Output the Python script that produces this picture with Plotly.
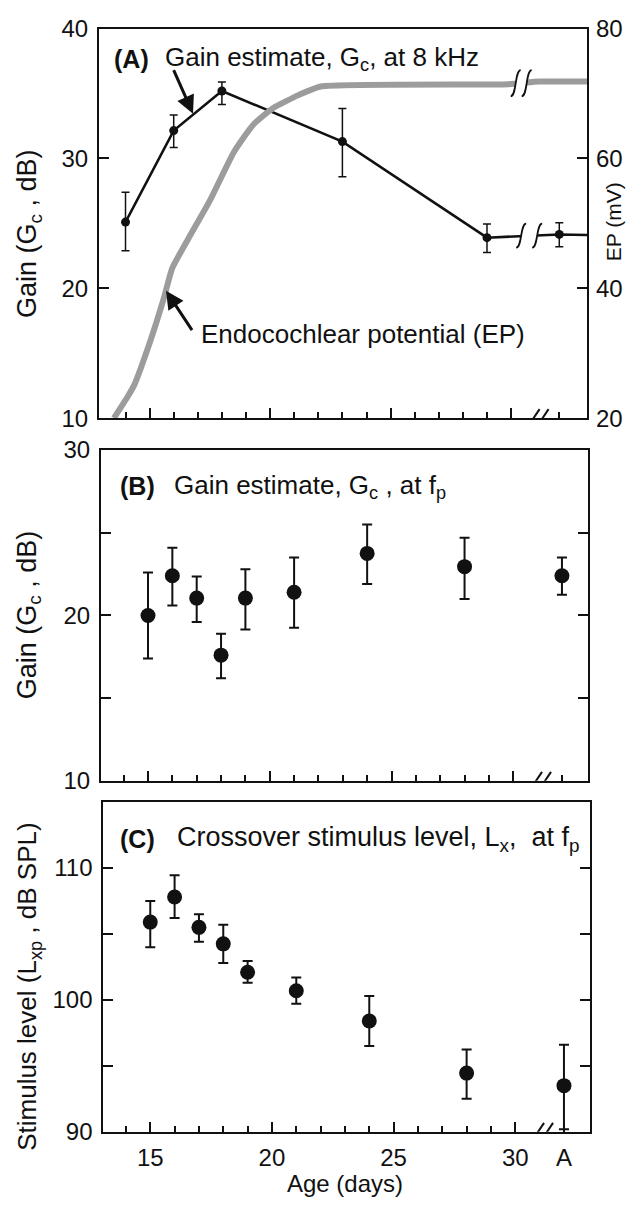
import plotly.graph_objects as go

W, H = 639, 1212

# ---------------- data ----------------
# Panel A: gain estimate at 8 kHz (left axis) and EP (right axis)
gainA_days = [14, 16, 18, 23, 29, 32]
gainA_vals = [25.1, 32.15, 35.2, 31.3, 23.9, 24.15]
gainA_hi = [27.4, 33.35, 35.9, 33.85, 24.95, 25.05]
gainA_lo = [22.9, 30.85, 34.15, 28.6, 22.75, 23.2]
gainA_tail_day = [33.2]
gainA_tail_val = [24.1]

ep_days = [13.52, 14.08, 14.35, 15.04, 15.6, 15.94, 16.6, 17.5, 18.5, 19.3,
           20.1, 21.2, 22.1, 29.9, 31.16, 33.2]
ep_mv = [20.0, 23.25, 25.0, 32.0, 38.6, 43.1, 47.6, 53.5, 61.0, 65.2,
         67.7, 69.8, 71.1, 71.45, 71.85, 71.85]

# Panel B: gain estimate at fp
gainB_days = [15, 16, 17, 18, 19, 21, 24, 28, 32]
gainB_vals = [20.0, 22.4, 21.05, 17.6, 21.05, 21.4, 23.75, 22.95, 22.4]
gainB_hi = [22.6, 24.1, 22.35, 18.9, 22.8, 23.5, 25.5, 24.7, 23.5]
gainB_lo = [17.4, 20.6, 19.6, 16.2, 19.15, 19.25, 21.9, 21.0, 21.25]

# Panel C: crossover stimulus level
lx_days = [15, 16, 17, 18, 19, 21, 24, 28, 32]
lx_vals = [105.9, 107.8, 105.5, 104.25, 102.1, 100.7, 98.4, 94.45, 93.5]
lx_hi = [107.5, 109.45, 106.5, 105.7, 102.95, 101.7, 100.3, 96.25, 96.6]
lx_lo = [104.0, 106.2, 104.4, 102.8, 101.3, 99.7, 96.5, 92.5, 90.2]

major_days = [15, 20, 25, 30]
minor_days = list(range(14, 31)) + [32]
c_tickvals = [15, 20, 25, 30, 32]
c_ticktext = ["15", "20", "25", "30", "A"]
break_day = 31.12

FONT = "Liberation Sans, Arial, sans-serif"
BLACK = "#111111"
GRAY = "#9c9c9c"


def px_x(p):
    return p / W


def px_y(p):
    return 1 - p / H


def err(vals, hi, lo):
    return dict(type="data", symmetric=False,
                array=[h - v for v, h in zip(vals, hi)],
                arrayminus=[v - l for v, l in zip(vals, lo)])


fig = go.Figure()

# EP curve
fig.add_trace(go.Scatter(x=ep_days, y=ep_mv, xaxis="x", yaxis="y4", mode="lines",
                         line=dict(color=GRAY, width=6, shape="spline", smoothing=0.5),
                         hoverinfo="skip", showlegend=False))
# gain line A (continues to frame)
fig.add_trace(go.Scatter(x=gainA_days + gainA_tail_day, y=gainA_vals + gainA_tail_val,
                         xaxis="x", yaxis="y", mode="lines",
                         line=dict(color=BLACK, width=2.5), showlegend=False))
ea = err(gainA_vals, gainA_hi, gainA_lo)
ea.update(thickness=1.5, width=4, color=BLACK)
fig.add_trace(go.Scatter(x=gainA_days, y=gainA_vals, xaxis="x", yaxis="y", mode="markers",
                         marker=dict(color=BLACK, size=9), error_y=ea, showlegend=False))

eb = err(gainB_vals, gainB_hi, gainB_lo)
eb.update(thickness=2, width=5, color=BLACK)
fig.add_trace(go.Scatter(x=gainB_days, y=gainB_vals, xaxis="x2", yaxis="y2", mode="markers",
                         marker=dict(color=BLACK, size=15), error_y=eb, showlegend=False))

ec = err(lx_vals, lx_hi, lx_lo)
ec.update(thickness=2, width=5, color=BLACK)
fig.add_trace(go.Scatter(x=lx_days, y=lx_vals, xaxis="x3", yaxis="y3", mode="markers",
                         marker=dict(color=BLACK, size=15), error_y=ec, showlegend=False))

tickfont = dict(family=FONT, size=24, color=BLACK)

dA_x = [px_x(99), px_x(587)]
dA_y = [px_y(413.3), px_y(15)]
dB_x = [px_x(101), px_x(588)]
dB_y = [px_y(784.3), px_y(446)]
dC_x = [px_x(103.3), px_x(590)]
dC_y = [px_y(1143.3), px_y(806)]
rA = [12.9, 33.15]
rBC = [13.07, 33.07]

common = dict(showgrid=False, zeroline=False, ticks="inside", tickwidth=1.5,
              tickcolor=BLACK, ticklen=10, tickfont=tickfont)
box = dict(showline=True, linecolor=BLACK, linewidth=2, mirror=True)
boxticks = dict(showline=True, linecolor=BLACK, linewidth=2, mirror="ticks")
minor = dict(tickvals=minor_days, ticks="inside", ticklen=6, tickwidth=1.5, tickcolor=BLACK)


def yminor(vals):
    return dict(tickvals=vals, ticks="inside", ticklen=10, tickwidth=1.5, tickcolor=BLACK)


def top_axis(base, anchor, dom, rng):
    return dict(overlaying=base, side="top", anchor=anchor, domain=dom, range=rng,
                tickvals=major_days, showticklabels=False, showline=False, **common)


fig.update_layout(
    width=W, height=H, autosize=False,
    margin=dict(l=0, r=0, t=0, b=0, pad=0),
    paper_bgcolor="white", plot_bgcolor="white",
    showlegend=False,
    xaxis=dict(domain=dA_x, range=rA, anchor="y", tickvals=major_days,
               showticklabels=False, minor=minor, **common, **box),
    yaxis=dict(domain=dA_y, range=[10, 40], anchor="x", tickvals=[10, 20, 30, 40],
               ticklabelstandoff=4, **common, **box),
    yaxis4=dict(overlaying="y", side="right", anchor="x", range=[20, 80],
                tickvals=[20, 40, 60, 80], showline=False, ticklabelstandoff=8, **common),
    xaxis4=top_axis("x", "y", dA_x, rA),
    xaxis2=dict(domain=dB_x, range=rBC, anchor="y2", tickvals=major_days,
                showticklabels=False, minor=minor, **common, **box),
    yaxis2=dict(domain=dB_y, range=[10, 30], anchor="x2", tickvals=[10, 20, 30],
                minor=yminor([15, 25]), ticklabelstandoff=4, **common, **boxticks),
    xaxis5=top_axis("x2", "y2", dB_x, rBC),
    xaxis3=dict(domain=dC_x, range=rBC, anchor="y3", tickvals=c_tickvals,
                ticktext=c_ticktext, minor=minor, ticklabelstandoff=3, **common, **box),
    yaxis3=dict(domain=dC_y, range=[90, 115], anchor="x3", tickvals=[90, 100, 110],
                minor=yminor([95, 105, 115]), ticklabelstandoff=4, **common, **boxticks),
    xaxis6=top_axis("x3", "y3", dC_x, rBC),
)

shapes = []
# axis breaks on the bottom axes
for xr, yr, ymin in [("x", "y", 10), ("x2", "y2", 10), ("x3", "y3", 90)]:
    shapes.append(dict(type="rect", xref=xr, yref=yr, xsizemode="pixel", ysizemode="pixel",
                       xanchor=break_day, yanchor=ymin, x0=-4, x1=4, y0=-3, y1=3,
                       fillcolor="white", line=dict(width=0), layer="above"))
    for off in (-4.5, 4.5):
        shapes.append(dict(type="line", xref=xr, yref=yr, xsizemode="pixel", ysizemode="pixel",
                           xanchor=break_day, yanchor=ymin, x0=off - 6, x1=off + 6,
                           y0=-9, y1=9, line=dict(color=BLACK, width=2), layer="above"))


# breaks on the EP curve and the gain line (panel A)
def line_break(yref, xmid, ymid, half_gap, hw, hh, gap_h):
    out = [dict(type="rect", xref="x", yref=yref, xsizemode="pixel", ysizemode="pixel",
                xanchor=xmid, yanchor=ymid, x0=-half_gap, x1=half_gap, y0=-gap_h, y1=gap_h,
                fillcolor="white", line=dict(width=0), layer="above")]
    for off in (-half_gap, half_gap):
        path = (f"M {off - hw},{-hh} C {off + 1},{-hh} {off - 1},{hh} {off + hw},{hh}")
        out.append(dict(type="path", xref="x", yref=yref, xsizemode="pixel",
                        ysizemode="pixel", xanchor=xmid, yanchor=ymid, path=path,
                        line=dict(color=BLACK, width=1.8), layer="above"))
    return out


shapes += line_break("y4", 30.42, 71.6, 5.5, 5, 13, 5)
shapes += line_break("y", 30.75, 24.05, 8, 5, 12, 4)
fig.update_layout(shapes=shapes)

ann = []


def text(x, y, s, size=26, bold=False, xanchor="left", angle=0):
    if bold:
        s = f"<b>{s}</b>"
    ann.append(dict(x=px_x(x), y=px_y(y), xref="paper", yref="paper", text=s,
                    showarrow=False, xanchor=xanchor, yanchor="middle", textangle=angle,
                    font=dict(family=FONT, size=size, color=BLACK)))


def arrow(hx, hy, tx, ty):
    ann.append(dict(x=px_x(hx), y=px_y(hy), xref="paper", yref="paper", text="",
                    showarrow=True, ax=tx - hx, ay=ty - hy, axref="pixel", ayref="pixel",
                    arrowhead=2, arrowsize=1.2, arrowwidth=3, arrowcolor=BLACK))


text(112, 46, "(A)", size=25, bold=True)
text(163, 46, "Gain estimate, G<sub>c</sub>, at 8 kHz")
arrow(193, 102, 173, 57)
text(199, 327, "Endocochlear potential (EP)")
arrow(166, 283, 193, 324)

text(118, 483, "(B)", size=25, bold=True)
text(172, 483, "Gain estimate, G<sub>c</sub> , at f<sub>p</sub>")

text(118, 844, "(C)", size=25, bold=True)
text(175, 844, "Crossover stimulus level, L<sub>x</sub>,  at f<sub>p</sub>", size=27)

text(29, 225, "Gain (G<sub>c</sub> , dB)", size=27, xanchor="center", angle=-90)
text(613, 213, "EP (mV)", size=21, xanchor="center", angle=-90)
text(29, 615, "Gain (G<sub>c</sub> , dB)", size=27, xanchor="center", angle=-90)
text(29, 995, "Stimulus level (L<sub>xp</sub> , dB SPL)", size=26, xanchor="center", angle=-90)
text(345, 1196, "Age (days)", size=24, xanchor="center")

fig.update_layout(annotations=ann)
fig.write_html("out.html")
